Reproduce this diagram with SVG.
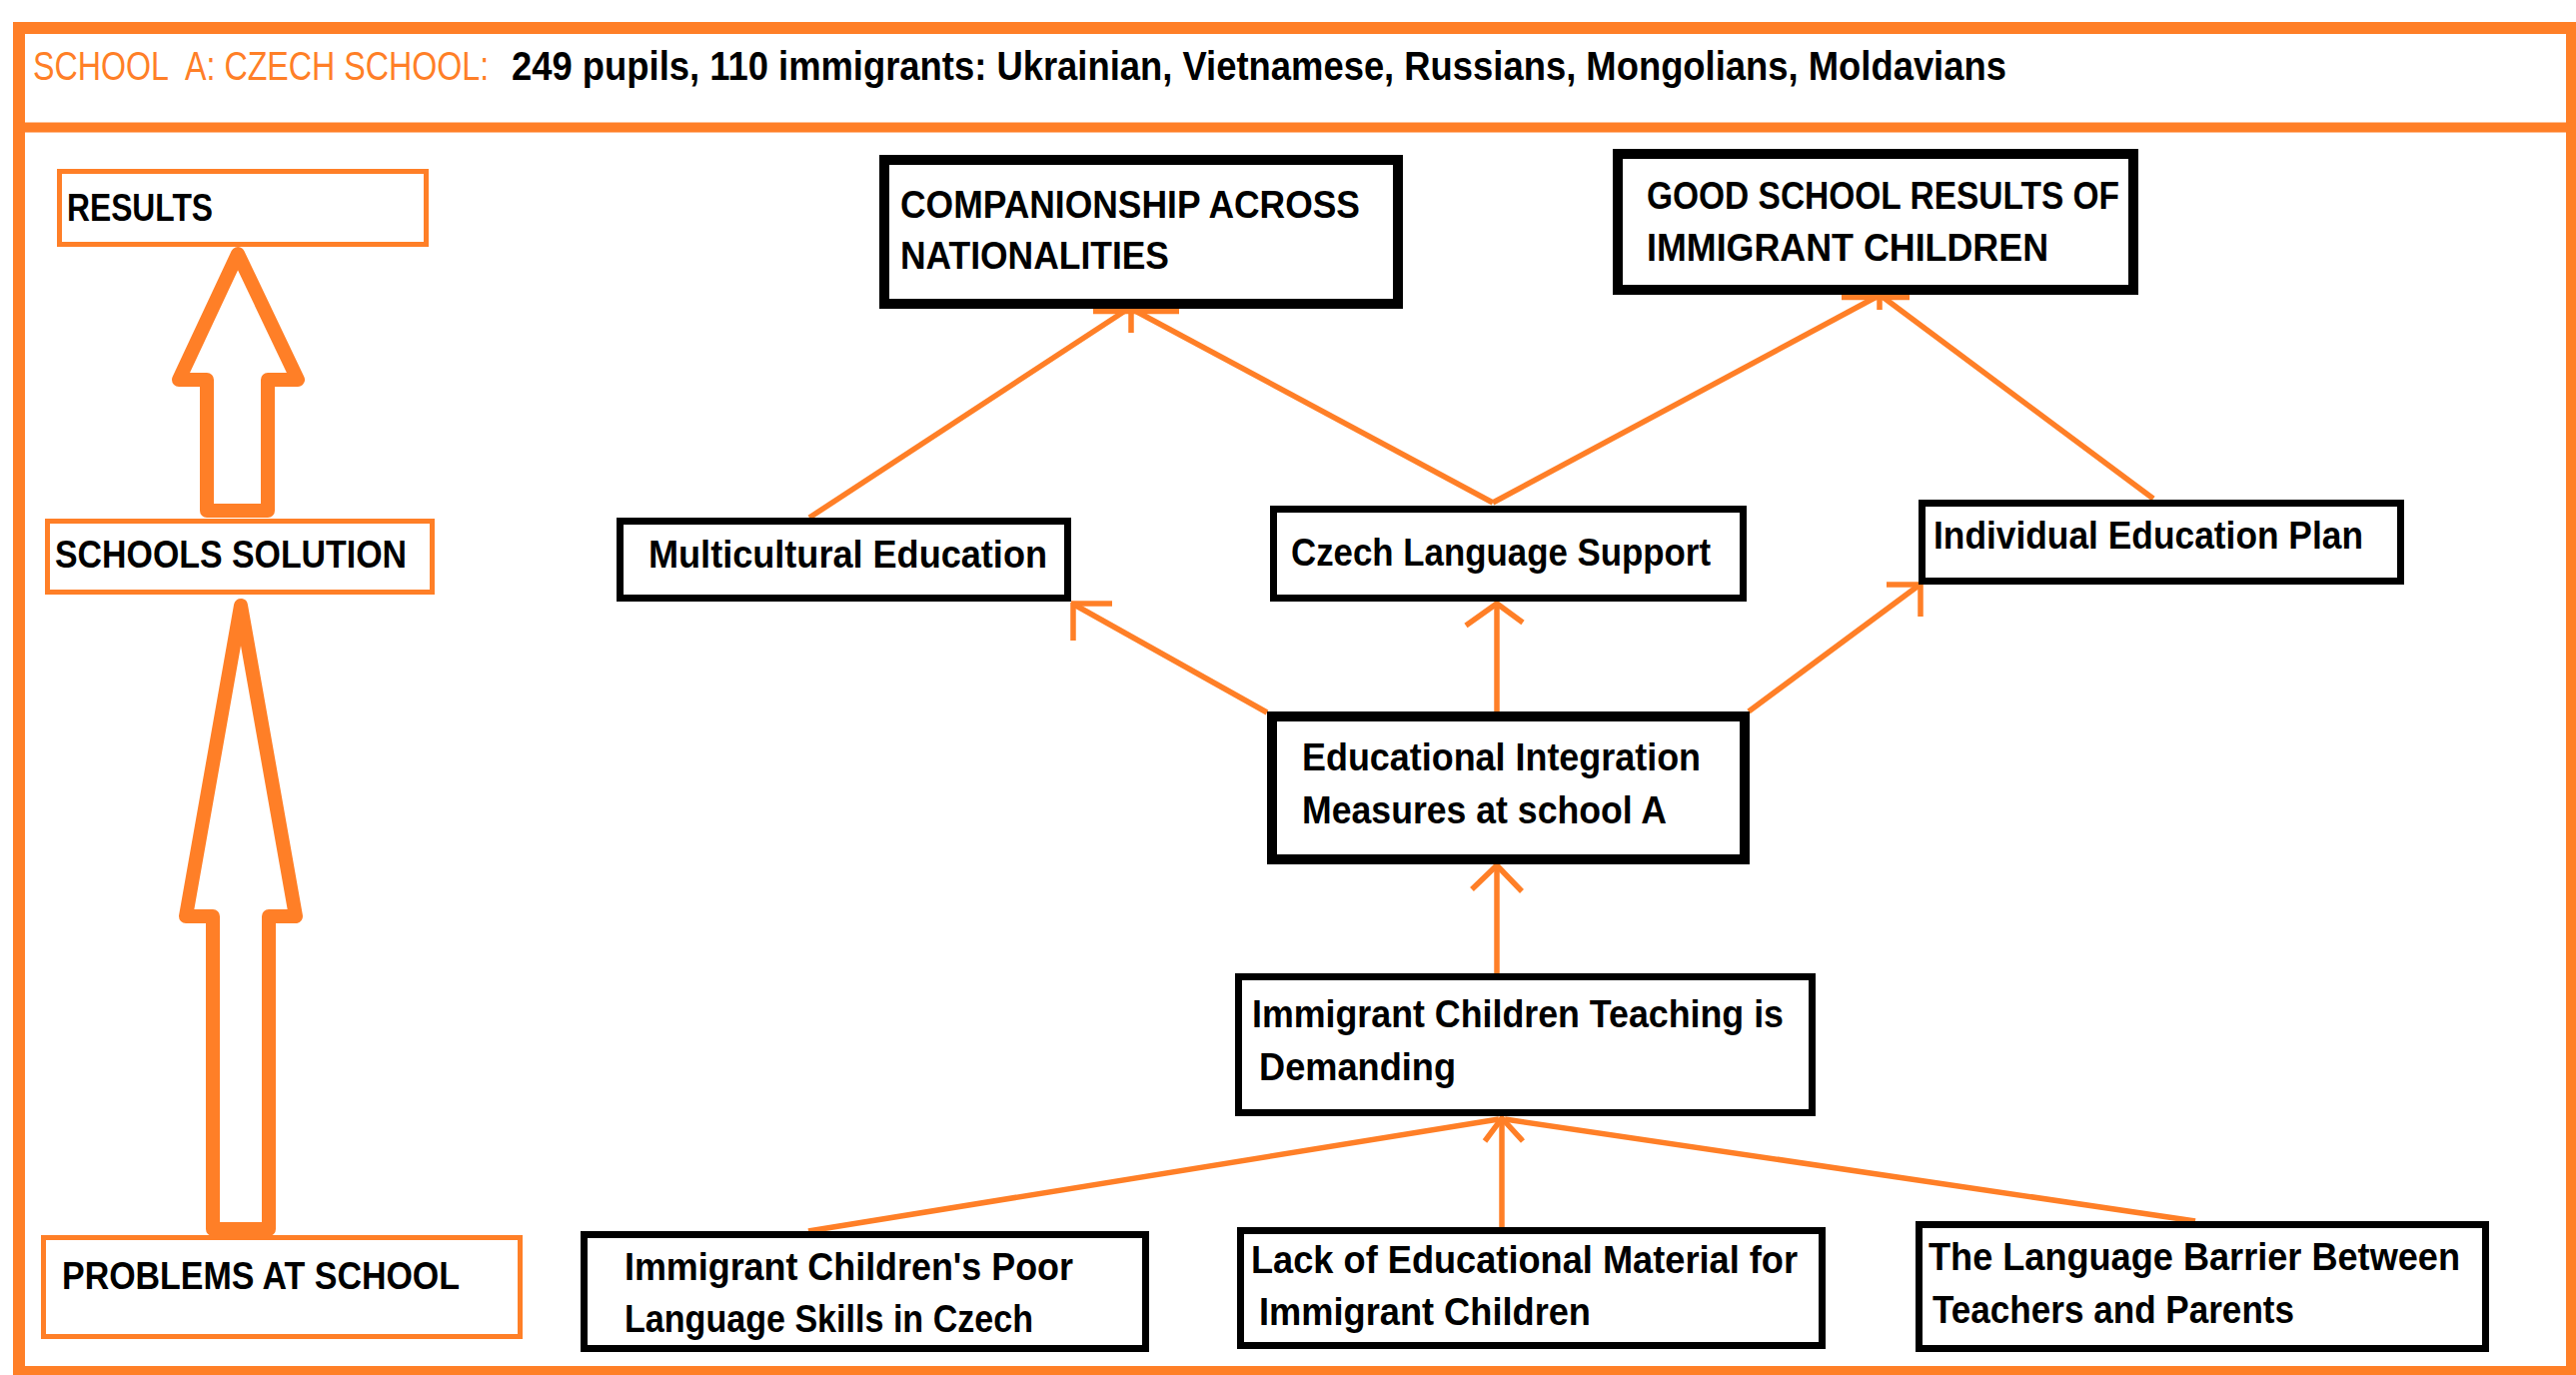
<svg xmlns="http://www.w3.org/2000/svg" width="2578" height="1376" viewBox="0 0 2578 1376">
<style>
.frame{fill:none;stroke:#ff7f27}
.obox{fill:#fff;stroke:#ff7f27;stroke-width:5}
.bbox{fill:#fff;stroke:#000;stroke-width:7}
.tbox{fill:#fff;stroke:#000;stroke-width:10}
.blk{fill:#fff;stroke:#ff7f27;stroke-width:14;stroke-linejoin:round}
.t{font-family:"Liberation Sans",Arial,sans-serif;font-weight:bold;font-size:38px;fill:#000}
.h{font-family:"Liberation Sans",Arial,sans-serif;font-size:40px}
#connectors line,#connectors polyline{stroke:#ff7f27;stroke-width:5.5;fill:none}
</style>
<rect x="0" y="0" width="2578" height="1376" fill="#fff"/>
<g id="frame">
<rect class="frame" x="19" y="28" width="2555" height="1345" stroke-width="12"/>
<line x1="19" y1="127.5" x2="2574" y2="127.5" stroke="#ff7f27" stroke-width="10"/>
</g>
<g id="header">
<text class="h" transform="translate(33,80) scale(0.805,1)" x="0" y="0" fill="#ff7f27">SCHOOL&#160; A: CZECH SCHOOL:</text>
<text class="h" transform="translate(512,80) scale(0.91,1)" x="0" y="0" fill="#000" font-weight="bold">249 pupils, 110 immigrants: Ukrainian, Vietnamese, Russians, Mongolians, Moldavians</text>
</g>
<g id="legend-arrows">
<polygon class="blk" points="241,606 296,917 269,917 269,1230 213,1230 213,917 186,917"/>
<polygon class="blk" points="238,254 298,380 268,380 268,511 207,511 207,380 179,380"/>
</g>
<g id="results">
<rect class="obox" x="59.5" y="171.5" width="367" height="73"/>
<text class="t" x="67" y="221" textLength="146" lengthAdjust="spacingAndGlyphs">RESULTS</text>
</g>
<g id="schools-solution">
<rect class="obox" x="47.5" y="521.5" width="385" height="71"/>
<text class="t" x="55" y="568" textLength="352" lengthAdjust="spacingAndGlyphs">SCHOOLS SOLUTION</text>
</g>
<g id="problems">
<rect class="obox" x="43.5" y="1238.5" width="477" height="99"/>
<text class="t" x="62" y="1290" textLength="398" lengthAdjust="spacingAndGlyphs">PROBLEMS AT SCHOOL</text>
</g>
<g id="connectors">
<line x1="810" y1="518" x2="1126" y2="311"/>
<line x1="1494" y1="503" x2="1136" y2="311"/>
<line x1="1494" y1="503" x2="1878" y2="297"/>
<line x1="2155" y1="499" x2="1884" y2="297"/>
<line x1="1094" y1="311.5" x2="1180" y2="311.5"/>
<line x1="1132" y1="309" x2="1132" y2="333"/>
<line x1="1843" y1="297.5" x2="1911" y2="297.5"/>
<line x1="1881" y1="297" x2="1881" y2="310"/>
<line x1="1268" y1="713" x2="1075" y2="605"/>
<line x1="1072" y1="604" x2="1113" y2="604"/>
<line x1="1074" y1="603" x2="1074" y2="641"/>
<line x1="1498" y1="712" x2="1498" y2="604"/>
<polyline points="1467,626 1498,604 1524,623"/>
<line x1="1750" y1="712" x2="1920" y2="586"/>
<line x1="1888" y1="585" x2="1920" y2="585"/>
<line x1="1922" y1="585" x2="1922" y2="617"/>
<line x1="1498" y1="974" x2="1498" y2="866"/>
<polyline points="1473,890 1498,866 1523,892"/>
<line x1="1503" y1="1228" x2="1503" y2="1119"/>
<polyline points="1486,1142 1503,1119 1524,1142"/>
<line x1="809" y1="1232" x2="1500" y2="1120"/>
<line x1="2197" y1="1222" x2="1506" y2="1120"/>
</g>
<g id="companionship">
<rect class="tbox" x="885" y="160" width="514" height="144"/>
<text class="t" x="901" y="218" textLength="460" lengthAdjust="spacingAndGlyphs">COMPANIONSHIP ACROSS</text>
<text class="t" x="901" y="269" textLength="269" lengthAdjust="spacingAndGlyphs">NATIONALITIES</text>
</g>
<g id="good-results">
<rect class="tbox" x="1619" y="154" width="516" height="136"/>
<text class="t" x="1648" y="209" textLength="473" lengthAdjust="spacingAndGlyphs">GOOD SCHOOL RESULTS OF</text>
<text class="t" x="1648" y="261" textLength="402" lengthAdjust="spacingAndGlyphs">IMMIGRANT CHILDREN</text>
</g>
<g id="multicultural">
<rect class="bbox" x="620.5" y="521.5" width="448" height="77"/>
<text class="t" x="649" y="568" textLength="399" lengthAdjust="spacingAndGlyphs">Multicultural Education</text>
</g>
<g id="czech-support">
<rect class="bbox" x="1274.5" y="509.5" width="470" height="89"/>
<text class="t" x="1292" y="566" textLength="420" lengthAdjust="spacingAndGlyphs">Czech Language Support</text>
</g>
<g id="iep">
<rect class="bbox" x="1923.5" y="503.5" width="479" height="78"/>
<text class="t" x="1935" y="549" textLength="430" lengthAdjust="spacingAndGlyphs">Individual Education Plan</text>
</g>
<g id="integration">
<rect class="tbox" x="1273" y="717" width="473" height="143"/>
<text class="t" x="1303" y="771" textLength="399" lengthAdjust="spacingAndGlyphs">Educational Integration</text>
<text class="t" x="1303" y="824" textLength="365" lengthAdjust="spacingAndGlyphs">Measures at school A</text>
</g>
<g id="teaching">
<rect class="bbox" x="1239.5" y="977.5" width="574" height="136"/>
<text class="t" x="1253" y="1028" textLength="532" lengthAdjust="spacingAndGlyphs">Immigrant Children Teaching is</text>
<text class="t" x="1260" y="1081" textLength="197" lengthAdjust="spacingAndGlyphs">Demanding</text>
</g>
<g id="poor-skills">
<rect class="bbox" x="584.5" y="1235.5" width="562" height="114"/>
<text class="t" x="625" y="1281" textLength="449" lengthAdjust="spacingAndGlyphs">Immigrant Children's Poor</text>
<text class="t" x="625" y="1333" textLength="409" lengthAdjust="spacingAndGlyphs">Language Skills in Czech</text>
</g>
<g id="lack-material">
<rect class="bbox" x="1241.5" y="1231.5" width="582" height="115"/>
<text class="t" x="1252" y="1274" textLength="547" lengthAdjust="spacingAndGlyphs">Lack of Educational Material for</text>
<text class="t" x="1260" y="1326" textLength="332" lengthAdjust="spacingAndGlyphs">Immigrant Children</text>
</g>
<g id="language-barrier">
<rect class="bbox" x="1920.5" y="1225.5" width="567" height="124"/>
<text class="t" x="1930" y="1271" textLength="532" lengthAdjust="spacingAndGlyphs">The Language Barrier Between</text>
<text class="t" x="1934" y="1324" textLength="362" lengthAdjust="spacingAndGlyphs">Teachers and Parents</text>
</g>
</svg>
